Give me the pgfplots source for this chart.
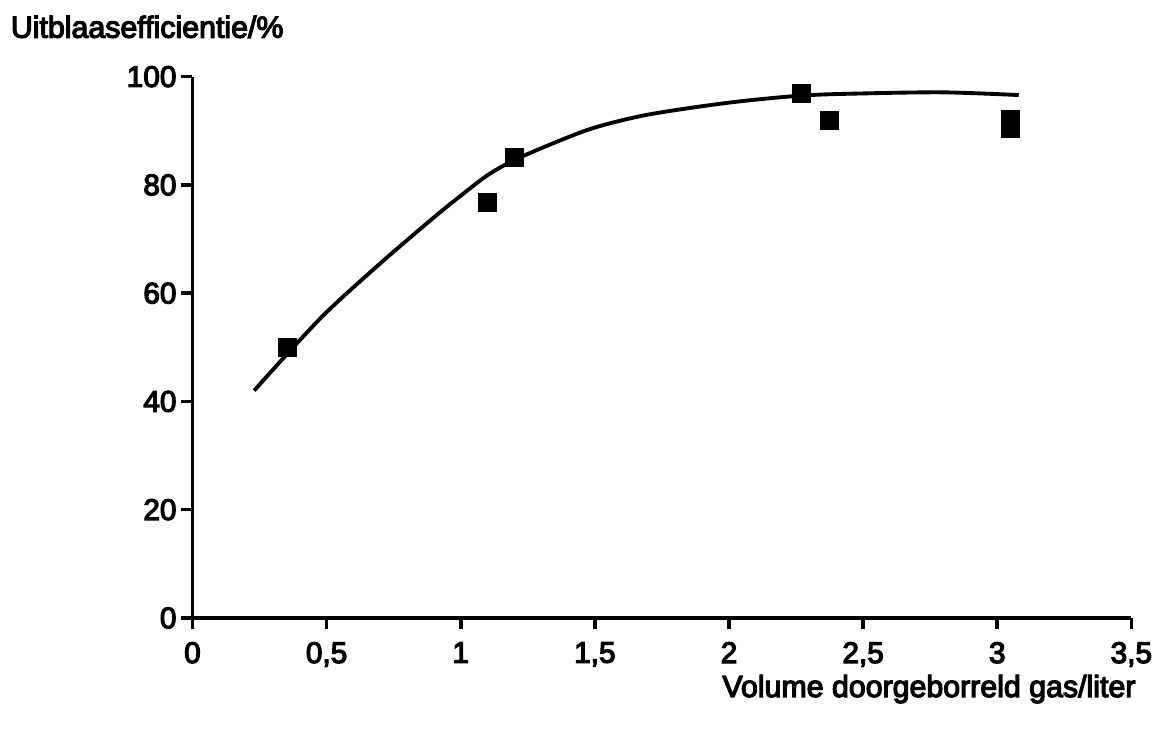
\documentclass[border=0pt]{standalone}
\usepackage{fontspec}
\setmainfont{Liberation Sans}[FakeBold=4]
\usepackage{pgfplots}
\pgfplotsset{compat=1.18}

\begin{document}
\fontsize{10.8}{13}\selectfont
\begin{tikzpicture}
% bounding box matching the reference proportions
\path (-69.8pt,-40.5pt) rectangle (350.3pt,224.1pt);
\begin{axis}[
    scale only axis,
    width=340.5pt, height=196.3pt,
    xmin=0, xmax=3.5,
    ymin=0, ymax=100,
    axis lines=left,
    axis line style={line width=1.3pt, -},
    tick style={line width=1.3pt, black},
    tick align=outside,
    major tick length=4pt,
    xtick={0,0.5,1,1.5,2,2.5,3,3.5},
    ytick={0,20,40,60,80,100},
    minor tick num=0,
    /pgf/number format/use comma,
    /pgf/number format/assume math mode=true,
    tick label style={font=\fontsize{10.8}{13}\selectfont},
    xticklabel style={yshift=-1pt},
    yticklabel style={xshift=2pt},
    xlabel={Volume doorgeborreld gas/liter},
    xlabel style={at={(axis description cs:1.005,-0.146)}, anchor=base east, inner sep=0pt, font=\fontsize{11}{13}\selectfont},
    ylabel={Uitblaasefficientie/\%},
    ylabel style={rotate=-90, at={(axis description cs:-0.194,1.072)}, anchor=base west, inner sep=0pt, font=\fontsize{11}{13}\selectfont},
    clip=false,
]
\addplot[black, line width=1.4pt, smooth, tension=0.5] coordinates {
    (0.23,42) (0.35,48.6) (0.5,56.5) (0.7,65.5) (0.9,74) (1.0,78)
    (1.1,81.8) (1.2,84.6) (1.35,87.8) (1.5,90.6) (1.7,93) (2.0,95.2)
    (2.27,96.5) (2.5,96.9) (2.8,97.1) (3.08,96.6)
};
\addplot[only marks, mark=square*, mark size=3.2pt, black] coordinates {
    (0.353,49.9) (1.10,76.8) (1.20,85.0) (2.27,96.9) (2.375,91.9)
    (3.05,92.1) (3.05,90.4)
};
\end{axis}
\end{tikzpicture}
\end{document}
